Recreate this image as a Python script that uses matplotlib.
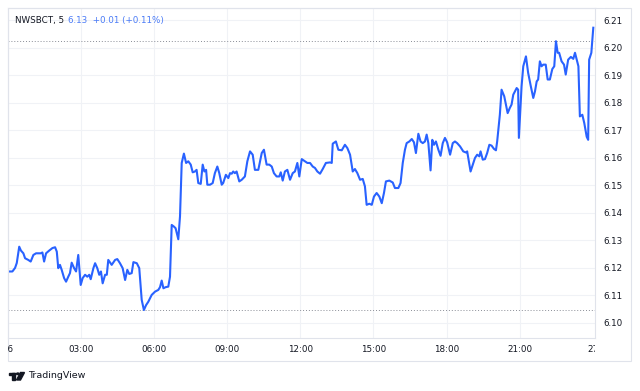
import matplotlib
matplotlib.use("Agg")
import matplotlib.pyplot as plt
from matplotlib.patches import Rectangle, Circle, Polygon
from matplotlib.transforms import Bbox, TransformedBbox, blended_transform_factory

# ---------------- data ----------------
hours = [
    0.06, 0.20, 0.31, 0.38, 0.48, 0.55, 0.65, 0.72, 0.85, 0.95,
    1.06, 1.17, 1.26, 1.36, 1.43, 1.50, 1.58, 1.71, 1.84, 1.95,
    2.02, 2.08, 2.15, 2.22, 2.32, 2.40, 2.49, 2.56, 2.63, 2.73,
    2.81, 2.90, 3.00, 3.08, 3.18, 3.27, 3.35, 3.41, 3.52, 3.59,
    3.68, 3.76, 3.83, 3.90, 4.00, 4.07, 4.13, 4.27, 4.41, 4.50,
    4.61, 4.72, 4.82, 4.91, 4.99, 5.09, 5.16, 5.30, 5.40, 5.50,
    5.59, 5.68, 5.77, 5.91, 6.05, 6.18, 6.25, 6.32, 6.39, 6.48,
    6.59, 6.66, 6.73, 6.82, 6.89, 7.00, 7.07, 7.14, 7.23, 7.32,
    7.41, 7.51, 7.59, 7.68, 7.75, 7.82, 7.92, 8.00, 8.07, 8.14,
    8.19, 8.30, 8.41, 8.50, 8.60, 8.68, 8.78, 8.84, 8.95, 9.05,
    9.12, 9.19, 9.25, 9.32, 9.39, 9.50, 9.60, 9.73, 9.83, 9.94,
    10.05, 10.14, 10.28, 10.42, 10.51, 10.62, 10.73, 10.83, 10.92, 11.03,
    11.14, 11.20, 11.28, 11.37, 11.47, 11.58, 11.69, 11.78, 11.88, 11.96,
    12.06, 12.19, 12.29, 12.40, 12.51, 12.60, 12.70, 12.81, 12.92, 13.05,
    13.22, 13.29, 13.33, 13.46, 13.56, 13.70, 13.83, 13.93, 14.04, 14.15,
    14.24, 14.34, 14.45, 14.56, 14.65, 14.72, 14.83, 14.93, 15.02, 15.13,
    15.24, 15.34, 15.43, 15.51, 15.65, 15.79, 15.88, 16.02, 16.11, 16.20,
    16.29, 16.36, 16.47, 16.57, 16.66, 16.74, 16.84, 16.93, 17.02, 17.11,
    17.18, 17.25, 17.34, 17.41, 17.48, 17.56, 17.66, 17.75, 17.84, 17.93,
    18.02, 18.14, 18.25, 18.34, 18.43, 18.55, 18.68, 18.79, 18.84, 18.93,
    18.98, 19.07, 19.16, 19.25, 19.34, 19.39, 19.48, 19.57, 19.66, 19.75,
    19.84, 19.94, 20.02, 20.07, 20.18, 20.25, 20.36, 20.50, 20.59, 20.66,
    20.73, 20.87, 20.93, 20.96, 21.07, 21.14, 21.25, 21.34, 21.45, 21.55,
    21.62, 21.69, 21.75, 21.82, 21.89, 21.96, 22.06, 22.14, 22.23, 22.33,
    22.41, 22.48, 22.55, 22.61, 22.71, 22.81, 22.88, 22.98, 23.09, 23.19,
    23.26, 23.33, 23.40, 23.46, 23.56, 23.64, 23.74, 23.80, 23.84, 23.93,
    24.01,
]
prices = [
    6.1187, 6.1187, 6.1200, 6.1218, 6.1277, 6.1263, 6.1253, 6.1235, 6.1229, 6.1223,
    6.1247, 6.1253, 6.1253, 6.1253, 6.1256, 6.1223, 6.1253, 6.1263, 6.1272, 6.1275,
    6.1259, 6.1199, 6.1211, 6.1193, 6.1163, 6.1150, 6.1168, 6.1181, 6.1219, 6.1199,
    6.1187, 6.1247, 6.1138, 6.1163, 6.1175, 6.1168, 6.1175, 6.1159, 6.1199, 6.1217,
    6.1199, 6.1175, 6.1187, 6.1144, 6.1175, 6.1175, 6.1229, 6.1211, 6.1229, 6.1232,
    6.1217, 6.1199, 6.1156, 6.1193, 6.1178, 6.1181, 6.1221, 6.1217, 6.1199, 6.1084,
    6.1047, 6.1065, 6.1077, 6.1102, 6.1114, 6.1120, 6.1130, 6.1154, 6.1126, 6.1130,
    6.1132, 6.1168, 6.1356, 6.1350, 6.1344, 6.1304, 6.1387, 6.1581, 6.1615, 6.1581,
    6.1587, 6.1575, 6.1547, 6.1550, 6.1556, 6.1508, 6.1505, 6.1575, 6.1550, 6.1556,
    6.1502, 6.1502, 6.1508, 6.1544, 6.1568, 6.1544, 6.1502, 6.1508, 6.1538, 6.1526,
    6.1544, 6.1542, 6.1550, 6.1544, 6.1550, 6.1514, 6.1520, 6.1532, 6.1587, 6.1623,
    6.1611, 6.1556, 6.1556, 6.1617, 6.1629, 6.1575, 6.1575, 6.1568, 6.1544, 6.1532,
    6.1532, 6.1547, 6.1517, 6.1550, 6.1556, 6.1520, 6.1544, 6.1550, 6.1581, 6.1532,
    6.1595, 6.1587, 6.1581, 6.1581, 6.1568, 6.1563, 6.1550, 6.1542, 6.1559, 6.1581,
    6.1583, 6.1581, 6.1651, 6.1659, 6.1629, 6.1627, 6.1647, 6.1635, 6.1611, 6.1550,
    6.1559, 6.1544, 6.1520, 6.1523, 6.1496, 6.1429, 6.1433, 6.1429, 6.1459, 6.1472,
    6.1459, 6.1435, 6.1472, 6.1514, 6.1517, 6.1510, 6.1490, 6.1490, 6.1508, 6.1581,
    6.1629, 6.1653, 6.1659, 6.1668, 6.1656, 6.1617, 6.1687, 6.1659, 6.1653, 6.1659,
    6.1684, 6.1653, 6.1554, 6.1665, 6.1647, 6.1659, 6.1629, 6.1607, 6.1653, 6.1672,
    6.1656, 6.1611, 6.1653, 6.1659, 6.1653, 6.1641, 6.1623, 6.1619, 6.1623, 6.1575,
    6.1550, 6.1575, 6.1599, 6.1611, 6.1605, 6.1623, 6.1593, 6.1595, 6.1617, 6.1647,
    6.1644, 6.1632, 6.1627, 6.1659, 6.1756, 6.1847, 6.1823, 6.1762, 6.1781, 6.1793,
    6.1829, 6.1853, 6.1847, 6.1672, 6.1859, 6.1932, 6.1968, 6.1908, 6.1859, 6.1817,
    6.1841, 6.1877, 6.1884, 6.1950, 6.1932, 6.1938, 6.1938, 6.1884, 6.1884, 6.1922,
    6.1932, 6.2023, 6.1981, 6.1981, 6.1950, 6.1938, 6.1902, 6.1956, 6.1966, 6.1959,
    6.1981, 6.1956, 6.1932, 6.1750, 6.1756, 6.1726, 6.1676, 6.1665, 6.1956, 6.1981,
    6.2072,
]
y_ticks = [6.10, 6.11, 6.12, 6.13, 6.14, 6.15, 6.16, 6.17, 6.18, 6.19, 6.20, 6.21]
x_ticks = [3, 6, 9, 12, 15, 18, 21]
x_tick_labels = ["03:00", "06:00", "09:00", "12:00", "15:00", "18:00", "21:00"]
day_positions = [0, 24]
day_labels = ["26", "27"]
range_high = 6.2023
range_low = 6.1047
symbol_label = "NWSBCT, 5"
quote_label = "6.13  +0.01 (+0.11%)"
brand_label = "TradingView"

# ---------------- layout ----------------
W, H = 640, 391
fig = plt.figure(figsize=(W / 100, H / 100), dpi=100)
fig.patch.set_facecolor("white")


def fx(px):
    return px / W


def fy(py):
    return 1 - py / H


LINE = "#2962ff"
TEXT = "#131722"
GRID = "#f0f2f6"
BORDER = "#e0e3eb"
FS = 6.3

ax = fig.add_axes([fx(8), fy(338), fx(595) - fx(8), fy(8) - fy(338)])
ax.set_facecolor("white")
ax.plot(hours, prices, color=LINE, lw=1.5, solid_joinstyle="round", zorder=3)
ax.axhline(range_high, color="#8a8d96", lw=0.7, ls=(0, (1, 2)), zorder=2)
ax.axhline(range_low, color="#8a8d96", lw=0.7, ls=(0, (1, 2)), zorder=2)

ax.set_xlim(0.02, 24.08)
ax.set_ylim(6.09455, 6.21436)

ax.set_yticks(y_ticks)
ax.set_yticklabels([f"{v:.2f}" for v in y_ticks])
ax.yaxis.tick_right()
ax.set_xticks(x_ticks)
ax.set_xticklabels(x_tick_labels)
ax.tick_params(axis="y", length=0, pad=5.8, labelsize=FS, labelcolor=TEXT)
ax.tick_params(axis="x", length=0, pad=4.8, labelsize=FS, labelcolor=TEXT)
ax.grid(True, color=GRID, lw=0.8, zorder=0)
ax.set_axisbelow(True)
for s in ax.spines.values():
    s.set_color(BORDER)
    s.set_linewidth(0.8)

# outer frame including axis label areas
fig.add_artist(Rectangle((fx(8), fy(361)), fx(631) - fx(8), fy(8) - fy(361),
                         transform=fig.transFigure, fill=False, ec=BORDER, lw=0.8))

# day labels clipped at the plot edges
tr = blended_transform_factory(ax.transData, fig.transFigure)
clip = TransformedBbox(Bbox.from_extents(fx(8), 0, fx(595), 1), fig.transFigure)
for pos, lab in zip(day_positions, day_labels):
    t = fig.text(pos, fy(349.5), lab, transform=tr, ha="center", va="center",
                 fontsize=FS, color=TEXT)
    t.set_clip_box(clip)
    t.set_clip_on(True)

# header
fig.text(fx(15), fy(21), symbol_label, fontsize=FS, color=TEXT, va="center")
fig.text(fx(68.5), fy(21), quote_label, fontsize=FS, color="#4a7bf7", va="center")

# TradingView logo + name
k = "#131722"
fig.add_artist(Rectangle((fx(8.5), fy(375)), fx(15) - fx(8.5), fy(372.5) - fy(375),
                         transform=fig.transFigure, color=k))
fig.add_artist(Rectangle((fx(12), fy(380)), fx(15) - fx(12), fy(372.5) - fy(380),
                         transform=fig.transFigure, color=k))
fig.add_artist(Circle((fx(17.8), fy(373.8)), 1.3 / W,
                      transform=fig.transFigure, color=k))
fig.add_artist(Polygon([(fx(20.5), fy(372.5)), (fx(24.5), fy(372.5)),
                        (fx(20.5), fy(380)), (fx(16.5), fy(380))],
                       closed=True, transform=fig.transFigure, color=k))
fig.text(fx(28), fy(376), brand_label, fontsize=6.8, color=k, va="center")

fig.savefig("out.png", dpi=100, facecolor="white")
